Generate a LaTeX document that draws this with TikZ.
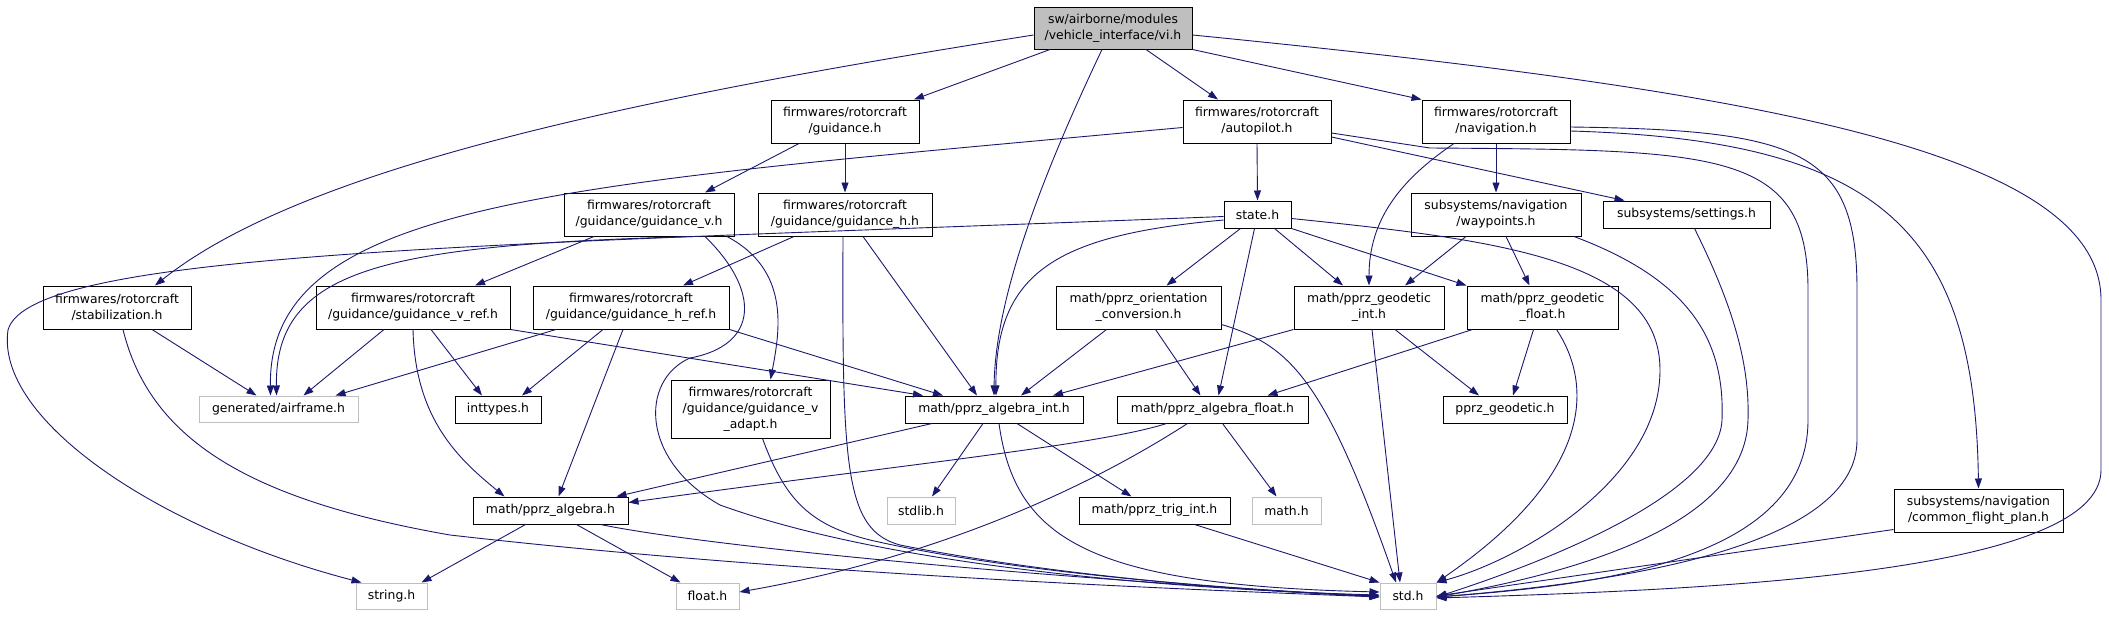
\documentclass[tikz,border=0pt]{standalone}
\usepackage{fontspec}
\setmainfont{DejaVu Sans}
\usetikzlibrary{arrows.meta}
\definecolor{edgeblue}{HTML}{191970}
\definecolor{rootfill}{HTML}{BFBFBF}
\definecolor{sysline}{HTML}{BFBFBF}

\begin{document}
\begin{tikzpicture}[x=1pt,y=-1pt,>={Triangle[length=10pt,width=7pt]},
 every node/.style={font=\fontsize{12.4}{16}\selectfont,inner sep=0pt},
 box/.style={draw=black,fill=white,align=center,line width=1pt},
 sys/.style={box,draw=sysline},
 arr/.style={->,draw=edgeblue,line width=.9pt}]
\useasboundingbox (0,0) rectangle (2109,616);
\node[box,fill=rootfill,minimum width=158pt,minimum height=42pt] (vi) at (1113,28)
 {sw/airborne/modules\\/vehicle\_interface/vi.h};
\node[box,minimum width=148pt,minimum height=43pt] (guidance) at (845,121.5)
 {firmwares/rotorcraft\\/guidance.h};
\node[box,minimum width=148pt,minimum height=43pt] (autopilot) at (1257,121.5)
 {firmwares/rotorcraft\\/autopilot.h};
\node[box,minimum width=148pt,minimum height=43pt] (navigation) at (1496,121.5)
 {firmwares/rotorcraft\\/navigation.h};
\node[box,minimum width=170pt,minimum height=43pt] (guidv) at (649,214.5)
 {firmwares/rotorcraft\\/guidance/guidance\_v.h};
\node[box,minimum width=174pt,minimum height=43pt] (guidh) at (845,214.5)
 {firmwares/rotorcraft\\/guidance/guidance\_h.h};
\node[box,minimum width=67pt,minimum height=27pt] (state) at (1257.5,214.5) {state.h};
\node[box,minimum width=170pt,minimum height=43pt] (waypoints) at (1496,214.5)
 {subsystems/navigation\\/waypoints.h};
\node[box,minimum width=167pt,minimum height=27pt] (settings) at (1686.5,214.5) {subsystems/settings.h};
\node[box,minimum width=148pt,minimum height=43pt] (stab) at (117,307.5)
 {firmwares/rotorcraft\\/stabilization.h};
\node[box,minimum width=194pt,minimum height=43pt] (vref) at (413,307.5)
 {firmwares/rotorcraft\\/guidance/guidance\_v\_ref.h};
\node[box,minimum width=196pt,minimum height=43pt] (href) at (631,307.5)
 {firmwares/rotorcraft\\/guidance/guidance\_h\_ref.h};
\node[box,minimum width=165pt,minimum height=43pt] (orient) at (1138.5,307.5)
 {math/pprz\_orientation\\\_conversion.h};
\node[box,minimum width=150pt,minimum height=43pt] (geoint) at (1369,307.5)
 {math/pprz\_geodetic\\\_int.h};
\node[box,minimum width=151pt,minimum height=43pt] (geofloat) at (1542.5,307.5)
 {math/pprz\_geodetic\\\_float.h};
\node[sys,minimum width=159pt,minimum height=26pt] (airframe) at (278.5,409) {generated/airframe.h};
\node[box,minimum width=86pt,minimum height=27pt] (inttypes) at (498,409.5) {inttypes.h};
\node[box,minimum width=159pt,minimum height=58pt] (vadapt) at (750.5,409)
 {firmwares/rotorcraft\\/guidance/guidance\_v\\\_adapt.h};
\node[box,minimum width=178pt,minimum height=27pt] (algint) at (994,409.5) {math/pprz\_algebra\_int.h};
\node[box,minimum width=191pt,minimum height=27pt] (algfloat) at (1212.5,409.5) {math/pprz\_algebra\_float.h};
\node[box,minimum width=124pt,minimum height=27pt] (geodetic) at (1505,409.5) {pprz\_geodetic.h};
\node[box,minimum width=155pt,minimum height=27pt] (algebra) at (550.5,510.5) {math/pprz\_algebra.h};
\node[sys,minimum width=68pt,minimum height=27pt] (stdlib) at (921,510.5) {stdlib.h};
\node[box,minimum width=151pt,minimum height=27pt] (trig) at (1154.5,510.5) {math/pprz\_trig\_int.h};
\node[sys,minimum width=69pt,minimum height=27pt] (math) at (1286.5,510.5) {math.h};
\node[box,minimum width=169pt,minimum height=43pt] (cfp) at (1978.5,510.5)
 {subsystems/navigation\\/common\_flight\_plan.h};
\node[sys,minimum width=71pt,minimum height=26pt] (string) at (391.5,596) {string.h};
\node[sys,minimum width=63pt,minimum height=26pt] (float) at (707.5,596) {float.h};
\node[sys,minimum width=56pt,minimum height=26pt] (std) at (1408,596) {std.h};
\draw[arr] ([yshift=-7pt]vi.west) .. controls (620,100) and (300,170) .. ([xshift=38pt]stab.north);
\draw[arr] ([xshift=-63pt]vi.south) -- ([xshift=69pt]guidance.north);
\draw[arr] ([xshift=-11pt]vi.south) .. controls (1040,180) and (995,300) .. (algint.north);
\draw[arr] ([xshift=33pt]vi.south) -- ([xshift=-39pt]autopilot.north);
\draw[arr] (vi.south east) -- (navigation.north west);
\draw[arr] ([yshift=-7pt]vi.east) .. controls (1750,90) and (2101,150) .. (2101,300) -- (2101,470)
 .. controls (2101,575) and (1700,590) .. ([yshift=-2pt]std.east);
\draw[arr] ([xshift=-46pt]guidance.south) -- ([xshift=56pt]guidv.north);
\draw[arr] (guidance.south) -- (guidh.north);
\draw[arr] (autopilot.south) -- (state.north);
\draw[arr] ([yshift=-6pt]autopilot.west) .. controls (560,185) and (268,200) .. ([xshift=-8pt]airframe.north);
\draw[arr] ([yshift=-15.5pt]autopilot.east) -- ([xshift=-62pt]settings.north);
\draw[arr] ([yshift=-11.5pt]autopilot.east) -- (1430,148) .. controls (1720,150) and (1808,150) .. (1808,290)
 -- (1808,420) .. controls (1808,560) and (1600,585) .. ([yshift=-1pt]std.east);
\draw[arr] (navigation.south) -- (waypoints.north);
\draw[arr] ([xshift=-42pt]navigation.south) .. controls (1400,180) and (1369,220) .. (geoint.north);
\draw[arr] ([yshift=-5.5pt]navigation.east) .. controls (1800,130) and (1857,150) .. (1857,290) -- (1857,440)
 .. controls (1857,540) and (1650,580) .. ([yshift=-1pt]std.east);
\draw[arr] ([yshift=-9.5pt]navigation.east) .. controls (1880,140) and (1975,230) .. (cfp.north);
\draw[arr] ([yshift=-2pt]state.west) .. controls (500,245) and (30,250) .. (8,330)
 .. controls (-5,420) and (160,530) .. ([xshift=-30pt]string.north);
\draw[arr] ([yshift=-5.5pt]state.west) .. controls (1060,235) and (995,270) .. ([xshift=2pt]algint.north);
\draw[arr] ([xshift=-17pt]state.south) -- ([xshift=28pt]orient.north);
\draw[arr] ([xshift=-3pt]state.south) -- ([xshift=6pt]algfloat.north);
\draw[arr] ([xshift=17pt]state.south) -- ([xshift=-26pt]geoint.north);
\draw[arr] (state.south east) -- (geofloat.north west);
\draw[arr] ([yshift=-4pt]state.east) .. controls (1500,240) and (1660,260) .. (1660,370)
 .. controls (1660,480) and (1520,560) .. (std.north east);
\draw[arr] ([xshift=-30pt]waypoints.south) -- ([xshift=36pt]geoint.north);
\draw[arr] ([xshift=10pt]waypoints.south) -- ([xshift=-13pt]geofloat.north);
\draw[arr] ([xshift=78pt]waypoints.south) .. controls (1690,280) and (1725,340) .. (1722,420)
 .. controls (1718,500) and (1520,570) .. ([yshift=-1pt]std.east);
\draw[arr] ([xshift=8pt]settings.south) .. controls (1730,300) and (1750,360) .. (1748,420)
 .. controls (1745,530) and (1560,575) .. ([yshift=-1pt]std.east);
\draw[arr] ([xshift=35pt]stab.south) -- ([xshift=-22pt]airframe.north);
\draw[arr] ([xshift=6pt]stab.south) .. controls (150,440) and (250,500) .. (450,535)
 .. controls (800,575) and (1200,590) .. ([yshift=-1pt]std.west);
\draw[arr] ([xshift=-55pt]guidv.south) -- ([xshift=62pt]vref.north);
\draw[arr] ([xshift=45pt]guidv.south) .. controls (380,245) and (275,270) .. ([xshift=-2pt]airframe.north);
\draw[arr] ([xshift=78pt]guidv.south) .. controls (790,270) and (780,330) .. ([xshift=20pt]vadapt.north);
\draw[arr] ([xshift=56pt]guidv.south) .. controls (760,290) and (760,345) .. (690,358)
 .. controls (640,380) and (640,460) .. (720,505) .. controls (900,570) and (1200,590) .. ([yshift=1pt]std.west);
\draw[arr] ([xshift=-51pt]guidh.south) -- ([xshift=52pt]href.north);
\draw[arr] ([xshift=-2pt]guidh.south) .. controls (842,470) and (845,530) .. (900,545)
 .. controls (1050,575) and (1250,592) .. (std.west);
\draw[arr] ([xshift=18pt]guidh.south) -- ([xshift=-17pt]algint.north);
\draw[arr] ([xshift=-29pt]vref.south) -- ([xshift=25pt]airframe.north);
\draw[arr] ([xshift=18pt]vref.south) -- ([xshift=-16pt]inttypes.north);
\draw[arr] (vref.south) .. controls (415,420) and (460,460) .. ([xshift=-46pt]algebra.north);
\draw[arr] (vref.south east) -- ([xshift=-71pt]algint.north);
\draw[arr] ([xshift=-75pt]href.south) -- ([xshift=57pt]airframe.north);
\draw[arr] ([xshift=-28pt]href.south) -- ([xshift=24pt]inttypes.north);
\draw[arr] ([xshift=-8pt]href.south) -- ([xshift=8pt]algebra.north);
\draw[arr] (href.south east) -- ([xshift=-51pt]algint.north);
\draw[arr] ([xshift=-32pt]orient.south) -- ([xshift=27pt]algint.north);
\draw[arr] ([xshift=17pt]orient.south) -- ([xshift=-12pt]algfloat.north);
\draw[arr] ([yshift=-17pt]orient.east) .. controls (1290,345) and (1325,380) .. ([xshift=-12pt]std.north);
\draw[arr] (geoint.south west) -- ([xshift=59pt]algint.north);
\draw[arr] ([xshift=26pt]geoint.south) -- ([xshift=-26pt]geodetic.north);
\draw[arr] ([xshift=3pt]geoint.south) -- ([xshift=-8pt]std.north);
\draw[arr] ([xshift=-70pt]geofloat.south) -- ([xshift=55pt]algfloat.north);
\draw[arr] ([xshift=-9pt]geofloat.south) -- ([xshift=8pt]geodetic.north);
\draw[arr] ([xshift=14pt]geofloat.south) .. controls (1590,380) and (1600,470) .. (std.north east);
\draw[arr] ([xshift=-62pt]algint.south) -- ([xshift=66pt]algebra.north);
\draw[arr] ([xshift=-11pt]algint.south) -- ([xshift=11pt]stdlib.north);
\draw[arr] ([xshift=23pt]algint.south) -- ([xshift=-23pt]trig.north);
\draw[arr] ([xshift=5pt]algint.south) .. controls (1015,540) and (1090,585) .. ([yshift=4pt]std.west);
\draw[arr] ([xshift=-46pt]algfloat.south) .. controls (1100,445) and (900,465) .. ([yshift=8pt]algebra.east);
\draw[arr] ([xshift=-25pt]algfloat.south) .. controls (1100,480) and (950,555) .. ([yshift=4pt]float.east);
\draw[arr] ([xshift=10pt]algfloat.south) -- ([xshift=-10pt]math.north);
\draw[arr] ([xshift=-25pt]algebra.south) -- ([xshift=30pt]string.north);
\draw[arr] ([xshift=26pt]algebra.south) -- ([xshift=-27pt]float.north);
\draw[arr] ([xshift=50pt]algebra.south) .. controls (700,545) and (1000,575) .. ([yshift=-1pt]std.west);
\draw[arr] ([xshift=12pt]vadapt.south) .. controls (785,500) and (810,525) .. (870,540)
 .. controls (1000,570) and (1200,588) .. (std.west);
\draw[arr] ([xshift=40pt]trig.south) -- (std.north west);
\draw[arr] ([yshift=-19pt]cfp.west) -- (std.east);
\end{tikzpicture}
\end{document}
